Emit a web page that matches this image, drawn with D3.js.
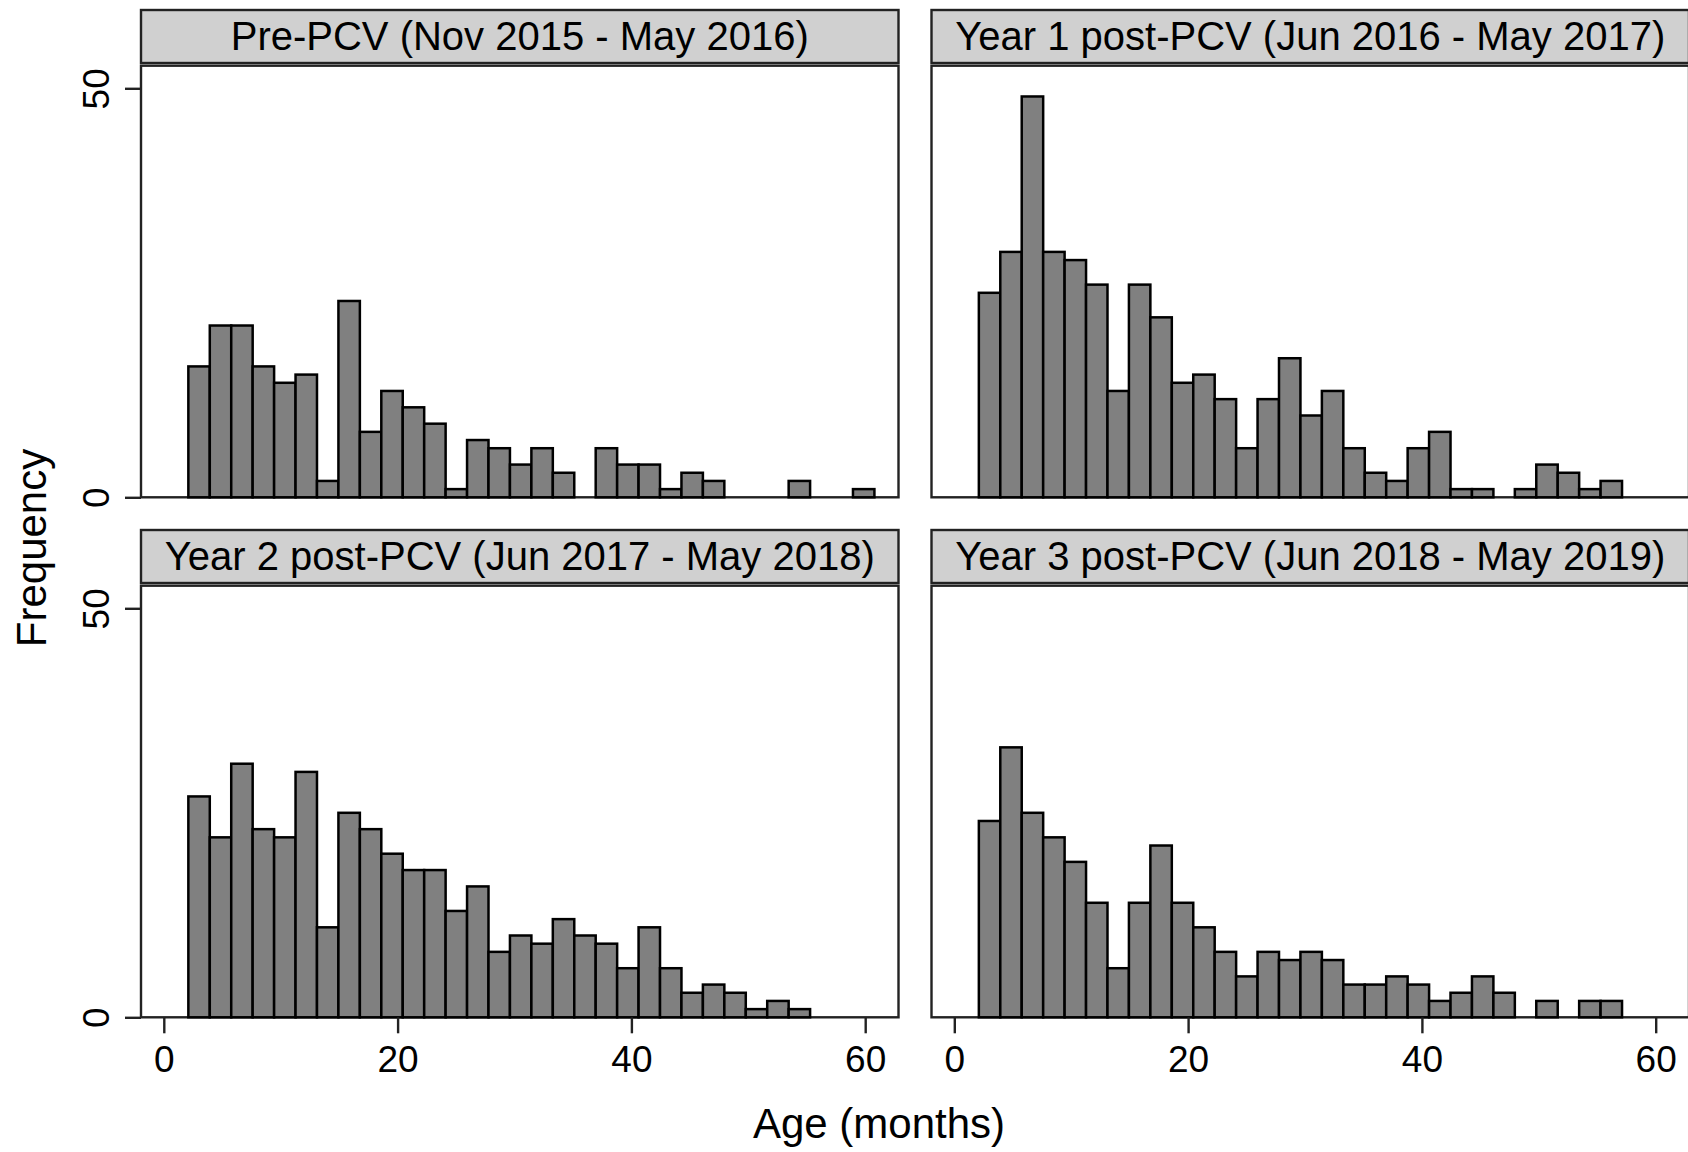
<!DOCTYPE html>
<html>
<head>
<meta charset="utf-8">
<script src="https://cdn.jsdelivr.net/npm/d3@7"></script>
<style>
  body { margin: 0; background: #fff; }
  svg { display: block; font-family: "Liberation Sans", Arial, Helvetica, sans-serif; }
</style>
</head>
<body>
<div id="chart"></div>
<script>
// Panel titles
const titles = [
    "Pre-PCV (Nov 2015 - May 2016)",
    "Year 1 post-PCV (Jun 2016 - May 2017)",
    "Year 2 post-PCV (Jun 2017 - May 2018)",
    "Year 3 post-PCV (Jun 2018 - May 2019)"
];

// Histogram counts per bin
const countsPre   = [16, 21, 21, 16, 14, 15, 2, 24, 8, 13, 11, 9, 1, 7, 6, 4, 6, 3, 0, 6, 4, 4, 1, 3, 2, 0, 0, 0, 2, 0, 0, 1];
const countsYear1 = [25, 30, 49, 30, 29, 26, 13, 26, 22, 14, 15, 12, 6, 12, 17, 10, 13, 6, 3, 2, 6, 8, 1, 1, 0, 1, 4, 3, 1, 2];
const countsYear2 = [27, 22, 31, 23, 22, 30, 11, 25, 23, 20, 18, 18, 13, 16, 8, 10, 9, 12, 10, 9, 6, 11, 6, 3, 4, 3, 1, 2, 1];
const countsYear3 = [24, 33, 25, 22, 19, 14, 6, 14, 21, 14, 11, 8, 5, 8, 7, 8, 7, 4, 4, 5, 4, 2, 3, 5, 3, 0, 2, 0, 2, 2];

// Bins (months)
const binStart = 2.1;
const binWidth = 1.834;

const xTicks = [0, 20, 40, 60];
const yTicks = [0, 50];

const allCounts = [countsPre, countsYear1, countsYear2, countsYear3];

const W = 1688, H = 1152;
const colLeft = [141, 931.5];
const rowTop = [10, 530];
const panelW = 757.5;
const headerH = 53;
const plotTopOff = 55.7;
const zeroOff = 487.3;   // y=0 offset from header top
const fiftyOff = 78.3;   // y=50 offset from header top
const xZeroOff = 22.8;   // x=0 offset from panel left
const pxPer60 = 701.4;

var svg = d3.select("#chart")
    .append("svg")
    .attr("width", W)
    .attr("height", H);

allCounts.forEach(function (counts, i) {
    var col = i % 2, row = Math.floor(i / 2);
    var left = colLeft[col], top = rowTop[row];

    var x = d3.scaleLinear()
        .domain([0, 60])
        .range([left + xZeroOff, left + xZeroOff + pxPer60]);

    var y = d3.scaleLinear()
        .domain([0, 50])
        .range([top + zeroOff, top + fiftyOff]);

    var g = svg.append("g");

    // header strip
    g.append("rect")
        .attr("x", left)
        .attr("y", top)
        .attr("width", panelW)
        .attr("height", headerH)
        .attr("fill", "#d0d0d0")
        .attr("stroke", "#222")
        .attr("stroke-width", 2.4);

    g.append("text")
        .attr("x", left + panelW / 2)
        .attr("y", top + 40)
        .attr("text-anchor", "middle")
        .style("font-size", "40px")
        .attr("fill", "#000")
        .text(titles[i]);

    // plot frame
    g.append("rect")
        .attr("x", left)
        .attr("y", top + plotTopOff)
        .attr("width", panelW)
        .attr("height", y(0) - (top + plotTopOff))
        .attr("fill", "#fff")
        .attr("stroke", "#222")
        .attr("stroke-width", 2.4);

    // bars
    g.selectAll(".bar")
        .data(counts.map(function (c, k) { return { x0: binStart + k * binWidth, n: c }; })
            .filter(function (d) { return d.n > 0; }))
        .enter()
        .append("rect")
        .attr("class", "bar")
        .attr("x", function (d) { return x(d.x0); })
        .attr("y", function (d) { return y(d.n); })
        .attr("width", function (d) { return x(d.x0 + binWidth) - x(d.x0); })
        .attr("height", function (d) { return y(0) - y(d.n); })
        .attr("fill", "#808080")
        .attr("stroke", "#000")
        .attr("stroke-width", 2.5);

    // y axis on left column
    if (col === 0) {
        var ya = g.append("g")
            .attr("transform", `translate(${left}, 0)`)
            .call(d3.axisLeft(y).tickValues(yTicks).tickSize(16).tickFormat(d3.format("d")));
        ya.select(".domain").remove();
        ya.selectAll(".tick line").attr("stroke", "#222").attr("stroke-width", 2.4);
        ya.selectAll(".tick text")
            .attr("x", null).attr("y", null).attr("dy", null)
            .attr("text-anchor", "middle")
            .attr("transform", "translate(-32, 0) rotate(-90)")
            .style("font-size", "37px")
            .attr("fill", "#000");
    }

    // x axis on bottom row
    if (row === 1) {
        var xa = g.append("g")
            .attr("transform", `translate(0, ${y(0)})`)
            .call(d3.axisBottom(x).tickValues(xTicks).tickSize(16).tickFormat(d3.format("d")));
        xa.select(".domain").remove();
        xa.selectAll(".tick line").attr("stroke", "#222").attr("stroke-width", 2.4);
        xa.selectAll(".tick text")
            .attr("y", 55).attr("dy", null)
            .style("font-size", "37px")
            .attr("fill", "#000");
    }
});

// axis titles
svg.append("text")
    .attr("x", 879)
    .attr("y", 1138)
    .attr("text-anchor", "middle")
    .style("font-size", "42px")
    .text("Age (months)");

svg.append("text")
    .attr("transform", "translate(46, 548) rotate(-90)")
    .attr("text-anchor", "middle")
    .style("font-size", "42px")
    .text("Frequency");
</script>
</body>
</html>
